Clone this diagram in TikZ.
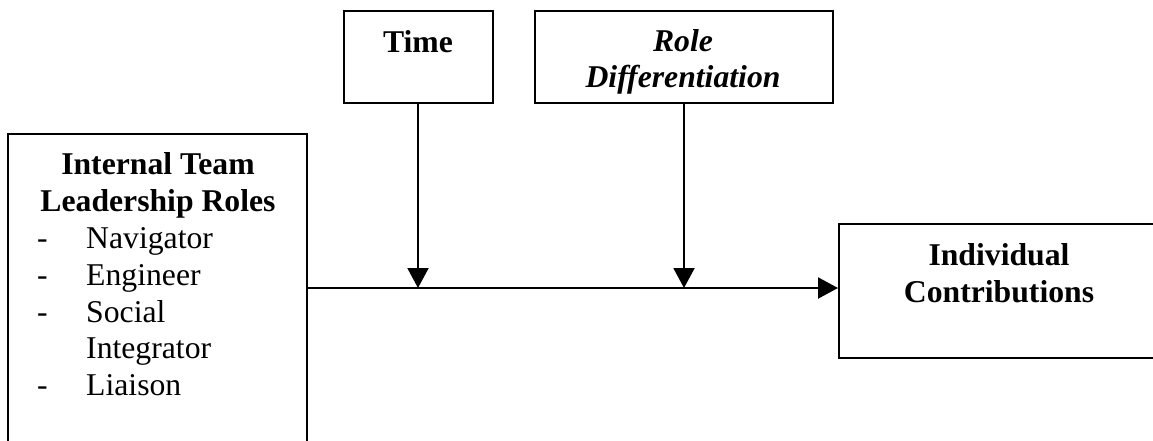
\documentclass[tikz,border=0pt]{standalone}
\usepackage{fontspec}
\setmainfont{Liberation Serif}
\usetikzlibrary{arrows.meta}
\tikzset{
  box/.style={draw=black, line width=2pt, rectangle, inner sep=0pt},
  lbl/.style={inner sep=0pt, anchor=base, font=\fontsize{31.7}{36.7}\selectfont},
  lblw/.style={inner sep=0pt, anchor=base west, font=\fontsize{31.7}{36.7}\selectfont},
  arr/.style={line width=2pt, -{Triangle[length=20pt,width=21pt]}}
}
\begin{document}
\begin{tikzpicture}[x=1pt,y=-1pt]
\useasboundingbox (0,0) rectangle (1153,440);
\clip (0,0) rectangle (1153,440);
% boxes
\node[box, minimum width=149pt, minimum height=92pt] (time) at (418,57) {};
\node[box, minimum width=298pt, minimum height=92pt] (role) at (684,57) {};
\node[box, minimum width=299pt, minimum height=336pt] (itl) at (157.5,302) {};
\node[box, minimum width=341pt, minimum height=134pt] (indiv) at (1009.5,291) {};
% texts
\node[lbl] (ttime) at (418,52) {\bfseries Time};
\node[lbl] (trole1) at (683,51) {\bfseries\itshape Role};
\node[lbl] (trole2) at (683,87) {\bfseries\itshape Differentiation};
\node[lbl] (titl1) at (158,174) {\bfseries Internal Team};
\node[lbl] (titl2) at (158,211) {\bfseries Leadership Roles};
\node[lblw] (d1) at (37,248) {-};
\node[lblw] (i1) at (86,248) {Navigator};
\node[lblw] (d2) at (37,285) {-};
\node[lblw] (i2) at (86,285) {Engineer};
\node[lblw] (d3) at (37,322) {-};
\node[lblw] (i3) at (86,322) {Social};
\node[lblw] (i3b) at (86,358) {Integrator};
\node[lblw] (d4) at (37,395) {-};
\node[lblw] (i4) at (86,395) {Liaison};
\node[lbl] (tind1) at (999,265) {\bfseries Individual};
\node[lbl] (tind2) at (999,302) {\bfseries Contributions};
% connectors
\coordinate (j1) at (418,288);
\coordinate (j2) at (684,288);
\draw[arr] (itl.east |- j1) -- (indiv.west |- j1);
\draw[arr] (time.south) -- (j1);
\draw[arr] (role.south) -- (j2);
\end{tikzpicture}
\end{document}
